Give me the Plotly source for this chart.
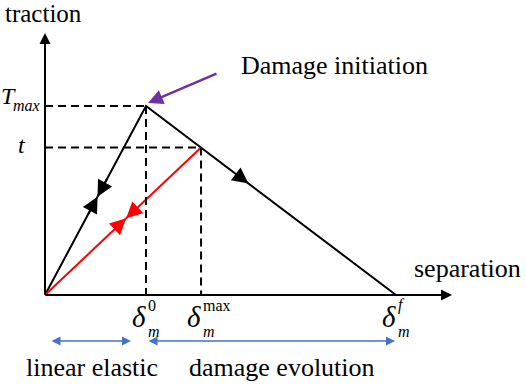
import plotly.graph_objects as go

# ---- data (normalised units) ----
delta_0 = 1.0        # separation at damage initiation
delta_max = 1.545    # maximum separation reached
delta_f = 3.475      # separation at complete failure
T_max = 1.0          # peak traction
t_val = 0.78         # current traction

x_axis_end = 4.03
y_axis_end = 1.386

# pixel -> data helpers (layout only)
X0, Y0, SX, SY = 45.0, 295.0, 101.0, 189.0
def px(x):
    return (x - X0) / SX
def py(y):
    return (Y0 - y) / SY

BLACK = "black"
RED = "#ff0000"
BLUE = "#4472C4"
PURPLE = "#7030A0"
FONT = "Liberation Serif"

fig = go.Figure()

# triangle (black) loading/unloading path
fig.add_trace(go.Scatter(x=[0, delta_0, delta_f], y=[0, T_max, 0], mode="lines",
                         line=dict(color=BLACK, width=2), hoverinfo="skip"))
# red unloading path
fig.add_trace(go.Scatter(x=[0, delta_max], y=[0, t_val], mode="lines",
                         line=dict(color=RED, width=2), hoverinfo="skip"))
# dashed guides
for xs, ys in [([0, delta_0], [T_max, T_max]), ([delta_0, delta_0], [T_max, 0]),
               ([0, delta_max], [t_val, t_val]), ([delta_max, delta_max], [t_val, 0])]:
    fig.add_trace(go.Scatter(x=xs, y=ys, mode="lines",
                             line=dict(color=BLACK, width=2, dash="8px,5px"), hoverinfo="skip"))

ann = []
def arrow(x, y, ax, ay, color, width=2, head=2, size=1.3, side="end"):
    ann.append(dict(x=x, y=y, ax=ax, ay=ay, xref="x", yref="y", axref="x", ayref="y",
                    text="", showarrow=True, arrowhead=head, startarrowhead=head,
                    arrowsize=size, startarrowsize=size,
                    arrowwidth=width, arrowcolor=color, arrowside=side, standoff=0))

# axes
arrow(x_axis_end, 0, -0.01, 0, BLACK, width=2, size=1.1)
arrow(0, y_axis_end, 0, -0.005, BLACK, width=2, size=1.1)

# mid-line arrowheads
f = 0.52
arrow(f * delta_0, f * T_max, (f - 0.1) * delta_0, (f - 0.1) * T_max, BLACK, size=1.6)
arrow(f * delta_0, f * T_max, (f + 0.1) * delta_0, (f + 0.1) * T_max, BLACK, size=1.6)
arrow(f * delta_max, f * t_val, (f - 0.08) * delta_max, (f - 0.08) * t_val, RED, size=1.6)
arrow(f * delta_max, f * t_val, (f + 0.08) * delta_max, (f + 0.08) * t_val, RED, size=1.6)
g = 0.41
xd = delta_0 + g * (delta_f - delta_0)
yd = T_max * (1 - g)
xd0 = delta_0 + (g - 0.05) * (delta_f - delta_0)
yd0 = T_max * (1 - g + 0.05)
arrow(xd, yd, xd0, yd0, BLACK, size=1.6)

# purple pointer
arrow(delta_0 + 0.02, T_max + 0.016, px(218), py(73), PURPLE, width=2.5, size=1.2)

# blue range arrows
arrow(px(131), py(341), px(50), py(341), BLUE, width=1.5, size=1.2, side="end+start")
arrow(delta_f - 0.01, py(341), delta_0 + 0.01, py(341), BLUE, width=1.5, size=1.2, side="end+start")

def txt(x, y, s, size=26, xanchor="center", yanchor="middle", italic=False):
    ann.append(dict(x=x, y=y, xref="x", yref="y", text=s, showarrow=False,
                    xanchor=xanchor, yanchor=yanchor, borderpad=0,
                    font=dict(family=FONT, size=size, color="black",
                              style="italic" if italic else "normal")))

txt(px(43), py(13), "traction", size=25)
txt(px(240), py(65), "Damage initiation", xanchor="left")
txt(px(467), py(268), "separation")
txt(px(92), py(367), "linear elastic")
txt(px(282), py(367), "damage evolution")

# T_max and t labels
txt(px(0), py(96), "T", size=24, xanchor="left", italic=True)
txt(px(12), py(105), "max", size=16, xanchor="left", italic=True)
txt(px(22), py(145), "t", size=24, italic=True)

# delta labels
for xc, sup, sup_it in [(delta_0, "0", False), (delta_max, "max", False), (delta_f, "f", True)]:
    xp = X0 + xc * SX
    txt(px(xp - 15), py(317), "δ", size=29, xanchor="left", italic=True)
    txt(px(xp + 1), py(331), "m", size=16, xanchor="left", italic=True)
    txt(px(xp + 1), py(305), sup, size=16, xanchor="left", italic=sup_it)

fig.update_layout(
    width=526, height=385, margin=dict(l=0, r=0, t=0, b=0),
    paper_bgcolor="white", plot_bgcolor="white", showlegend=False,
    xaxis=dict(range=[px(0), px(526)], visible=False, fixedrange=True),
    yaxis=dict(range=[py(385), py(0)], visible=False, fixedrange=True),
    annotations=ann,
)
fig.write_html("out.html", config={"displayModeBar": False},
               post_script="document.body.style.margin='0';")
